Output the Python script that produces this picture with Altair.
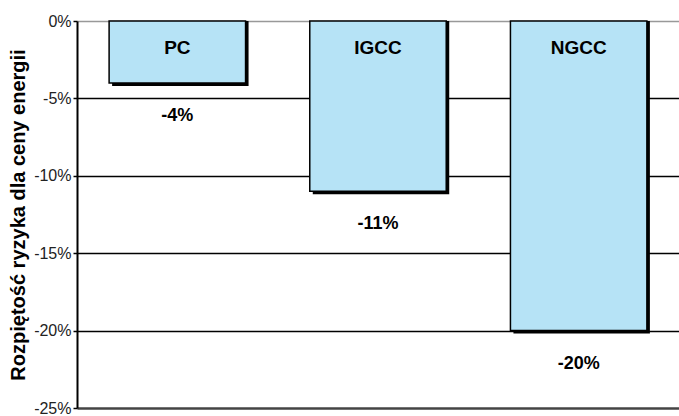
import altair as alt
import pandas as pd

categories = ["PC", "IGCC", "NGCC"]
values = [-0.04, -0.11, -0.20]
value_labels = ["-4%", "-11%", "-20%"]
y_ticks = [0, -0.05, -0.10, -0.15, -0.20, -0.25]

df = pd.DataFrame({"cat": categories, "val": values, "lab": value_labels})

FONT = "Liberation Sans"

x = alt.X("cat:N", sort=categories,
          scale=alt.Scale(paddingInner=0.32, paddingOuter=0.16),
          axis=alt.Axis(orient="top", labels=False, title=None, domain=False,
                        ticks=True, tickBand="extent", tickSize=6, tickColor="#444",
                        tickWidth=1, offset=-6, grid=False))
y_scale = alt.Scale(domain=[-0.25, 0], nice=False)
grid_color = {"condition": [{"test": "datum.value == 0", "value": "#999999"},
                            {"test": "datum.value < -0.24", "value": "#444444"}],
              "value": "black"}
grid_width = {"condition": {"test": "datum.value < -0.24", "value": 2.5}, "value": 1.5}
y = alt.Y("val:Q", scale=y_scale,
          axis=alt.Axis(values=y_ticks, labelExpr="round(datum.value * 100) + '%'",
                        title="Rozpiętość ryzyka dla ceny energii",
                        titleFont=FONT, titleFontSize=20, titleFontWeight="bold", titleColor="black",
                        titlePadding=5,
                        labelFont=FONT, labelFontSize=16, labelColor="#222", labelPadding=2,
                        domainColor="black", domainWidth=2, tickColor="black", tickSize=4,
                        tickWidth=1.5,
                        grid=True, gridColor=grid_color, gridWidth=grid_width, gridOpacity=1))

base = alt.Chart(df)

shadow = base.mark_bar(color="black", xOffset=3, yOffset=3).encode(x=x, y=y, y2=alt.datum(0))
bars = base.mark_bar(color="#b6e3f6", stroke="black", strokeWidth=1.5).encode(x=x, y=y, y2=alt.datum(0))
cat_text = base.mark_text(font=FONT, fontSize=19, fontWeight="bold", color="black", dy=27).encode(
    x=x, y=alt.datum(0), text="cat:N")
val_text = base.mark_text(font=FONT, fontSize=18, fontWeight="bold", color="black", dy=33).encode(
    x=x, y=y, text="lab:N")

chart = alt.layer(shadow, bars, cat_text, val_text).properties(
    width=602, height=387,
    padding={"left": 77, "top": 21, "right": 0, "bottom": 8},
    autosize=alt.AutoSizeParams(type="none"),
    background="white"
).configure_view(stroke=None)

chart.save("out.html", embed_options={"renderer": "svg", "actions": False})
